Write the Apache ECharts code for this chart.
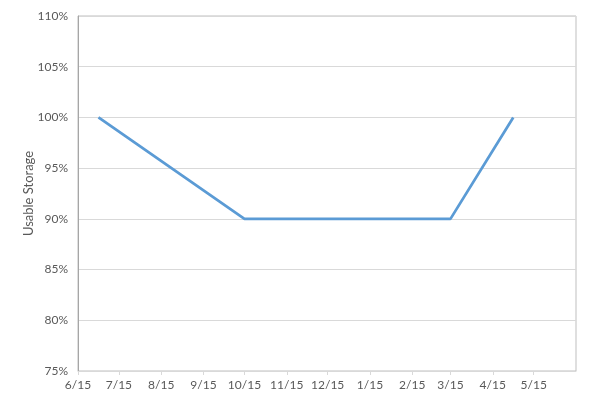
<!DOCTYPE html>
<html><head><meta charset="utf-8">
<script src="https://cdn.jsdelivr.net/npm/echarts@6/dist/echarts.min.js"></script>
<style>html,body{margin:0;padding:0;background:#fff}#c{width:604px;height:403px}</style>
</head><body><div id="c"></div>
<script>
// Data
var pointDates = ['2014-06-30', '2014-10-15', '2015-03-15', '2015-04-30'];
var storagePct = [100, 90, 90, 100];
var tickDates = ['2014-06-15','2014-07-15','2014-08-15','2014-09-15','2014-10-15','2014-11-15','2014-12-15','2015-01-15','2015-02-15','2015-03-15','2015-04-15','2015-05-15'];
var axisMinDate = '2014-06-15';
var axisMaxDate = '2015-06-15';
var yTitle = 'Usable Storage';

var DAY = 86400000;
function ts(s){var p=s.split('-');return Date.UTC(+p[0],+p[1]-1,+p[2]);}
var t0 = ts(axisMinDate);
function dayOf(s){return Math.round((ts(s)-t0)/DAY);}
var tickDays = tickDates.map(dayOf);
var data = pointDates.map(function(d,i){return [dayOf(d), storagePct[i]];});
function fmtDay(v){var d=new Date(t0+v*DAY);return (d.getUTCMonth()+1)+'/'+d.getUTCDate();}
var font = 'Lato, "Open Sans", sans-serif';
var chart = echarts.init(document.getElementById('c'));
chart.setOption({
  animation:false,
  grid:{left:78,right:28,top:16,bottom:32,show:true,borderColor:'#bfbfbf',borderWidth:1,backgroundColor:'transparent'},
  xAxis:{
    type:'value', min:0, max:dayOf(axisMaxDate),
    axisLine:{show:true,lineStyle:{color:'#d9d9d9',width:1}},
    axisTick:{show:true,length:4,lineStyle:{color:'#d9d9d9'},customValues:tickDays},
    axisLabel:{customValues:tickDays,color:'#595959',fontSize:12,fontFamily:font,margin:8,formatter:fmtDay},
    splitLine:{show:false}
  },
  yAxis:{
    type:'value', min:75, max:110, interval:5,
    name:yTitle, nameLocation:'middle', nameGap:43, nameRotate:90, nameMoveOverlap:false,
    nameTextStyle:{color:'#595959',fontSize:13,fontFamily:font},
    axisLine:{show:true,lineStyle:{color:'#a6a6a6'}},
    axisTick:{show:false},
    axisLabel:{formatter:'{value}%',color:'#595959',fontSize:12,fontFamily:font,margin:10},
    splitLine:{show:true,lineStyle:{color:'#d9d9d9',width:1}}
  },
  series:[{type:'line',data:data,symbol:'none',lineStyle:{color:'#5b9bd5',width:2.75},itemStyle:{color:'#5b9bd5'}}]
});
</script></body></html>
